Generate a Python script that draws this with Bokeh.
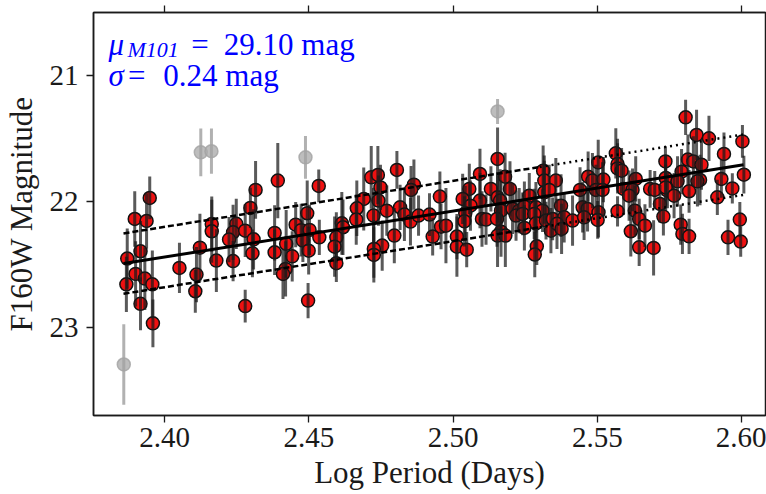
from bokeh.plotting import figure
from bokeh.models import Range1d, FixedTicker, LinearAxis, Label, ColumnDataSource
from bokeh.embed import file_html
from bokeh.resources import INLINE

# ---- data ----
logp_red = [
    2.3870, 2.3896, 2.3948, 2.3937, 2.3916, 2.3899, 2.3931, 2.3867, 2.3957, 2.3916, 2.3959, 2.4051, 2.4110, 2.4106, 2.4122, 2.4163, 2.4163, 2.4179,
    2.4392, 2.4315, 2.4534, 2.4297, 2.4248, 2.4237, 2.4223, 2.4279, 2.4308, 2.4304, 2.4237, 2.4381, 2.4381, 2.4421, 2.4442, 2.4454, 2.4473, 2.4494, 2.4502, 2.4479, 2.4499, 2.4536, 2.4419, 2.4410, 2.4279, 2.4497,
    2.4805, 2.4716, 2.4739, 2.4748, 2.4864, 2.4854, 2.4690, 2.4741, 2.4666, 2.4664, 2.4724, 2.4770, 2.4816, 2.4831, 2.4852, 2.4880, 2.4918, 2.4954, 2.4614, 2.4618, 2.4595, 2.4589, 2.4796, 2.4754, 2.4725, 2.4725, 2.4595, 2.4929, 2.4958,
    2.5154, 2.5093, 2.5180, 2.5312, 2.5316, 2.5356, 2.5056, 2.5033, 2.5131, 2.5197, 2.5093, 2.5154, 2.5163, 2.5060, 2.5264, 2.5316, 2.5333, 2.5042, 2.5166, 2.5206, 2.5229, 2.5247, 2.5287, 2.5310, 2.5218, 2.5241, 2.5281, 2.4975, 2.5039, 2.5100, 2.5114, 2.5152, 2.5287, 2.5322, 2.5345, 2.5247, 2.5166, 2.5154, 2.5181, 2.5339, 2.5013, 2.5013, 2.5047, 2.5290, 2.5283,
    2.5564, 2.5570, 2.5570, 2.5584, 2.5503, 2.5736, 2.5468, 2.5483, 2.5521, 2.5633, 2.5440, 2.5495, 2.5518, 2.5591, 2.5622, 2.5610, 2.5683, 2.5699, 2.5743, 2.5374, 2.5449, 2.5466, 2.5504, 2.5570, 2.5630, 2.5717, 2.5729, 2.5385, 2.5360, 2.5414, 2.5454, 2.5501, 2.5645, 2.5665, 2.5376, 2.5616, 2.5645, 2.5695,
    2.5806, 2.5844, 2.5887, 2.6003, 2.5939, 2.5814, 2.5833, 2.5861, 2.5792, 2.6008, 2.5930, 2.5856, 2.5847, 2.5737, 2.5778, 2.5737, 2.5818, 2.5766, 2.5968, 2.5916, 2.5789, 2.5795, 2.5818, 2.5953, 2.5994, 2.5997,
]
mag_red = [
    22.454, 22.139, 21.972, 22.155, 22.396, 22.576, 22.613, 22.659, 22.659, 22.814, 22.969, 22.528, 22.581, 22.714, 22.367, 22.180, 22.237, 22.470,
    21.834, 21.908, 21.876, 22.051, 22.178, 22.245, 22.303, 22.232, 22.301, 22.412, 22.474, 22.250, 22.404, 22.337, 22.436, 22.184, 22.228, 22.094, 22.226, 22.311, 22.391, 22.285, 22.536, 22.576, 22.832, 22.788,
    21.749, 21.808, 21.789, 21.888, 21.866, 21.908, 21.980, 21.993, 22.054, 22.144, 22.112, 22.073, 22.046, 22.104, 22.160, 22.112, 22.104, 21.961, 22.174, 22.205, 22.285, 22.359, 22.271, 22.351, 22.377, 22.425, 22.491, 22.279, 22.200,
    21.662, 21.781, 21.803, 21.755, 21.834, 21.834, 21.900, 21.980, 21.900, 21.900, 21.993, 21.967, 21.993, 22.033, 21.954, 21.927, 21.908, 22.094, 22.073, 22.059, 22.073, 22.041, 22.046, 22.073, 22.112, 22.099, 22.099, 22.192, 22.158, 22.139, 22.144, 22.139, 22.174, 22.152, 22.139, 22.210, 22.240, 22.271, 22.271, 22.232, 22.279, 22.359, 22.383, 22.356, 22.422,
    21.617, 21.702, 21.737, 21.755, 21.689, 21.681, 21.803, 21.834, 21.826, 21.821, 21.908, 21.908, 21.908, 21.900, 21.908, 21.954, 21.900, 21.908, 21.914, 22.033, 22.046, 22.059, 22.086, 22.078, 22.073, 22.019, 22.120, 22.126, 22.178, 22.152, 22.126, 22.147, 22.139, 22.192, 22.218, 22.237, 22.364, 22.369,
    21.331, 21.471, 21.498, 21.522, 21.622, 21.667, 21.681, 21.707, 21.763, 21.787, 21.821, 21.829, 21.840, 21.813, 21.840, 21.888, 21.919, 21.954, 21.896, 21.967, 22.184, 22.258, 22.277, 22.285, 22.144, 22.319,
]
err_red = [
    0.24, 0.22, 0.17, 0.22, 0.24, 0.26, 0.25, 0.22, 0.27, 0.21, 0.19, 0.20, 0.22, 0.17, 0.27, 0.22, 0.25, 0.25,
    0.30, 0.23, 0.13, 0.16, 0.20, 0.22, 0.18, 0.21, 0.24, 0.19, 0.16, 0.22, 0.18, 0.27, 0.20, 0.18, 0.21, 0.26, 0.20, 0.17, 0.19, 0.14, 0.22, 0.20, 0.13, 0.14,
    0.15, 0.25, 0.23, 0.18, 0.20, 0.19, 0.25, 0.20, 0.22, 0.20, 0.22, 0.20, 0.18, 0.21, 0.19, 0.16, 0.17, 0.20, 0.25, 0.22, 0.20, 0.24, 0.22, 0.20, 0.23, 0.22, 0.15, 0.15, 0.18,
    0.25, 0.20, 0.19, 0.20, 0.20, 0.18, 0.20, 0.20, 0.18, 0.22, 0.22, 0.20, 0.25, 0.20, 0.18, 0.25, 0.20, 0.22, 0.24, 0.20, 0.18, 0.20, 0.20, 0.17, 0.20, 0.17, 0.20, 0.30, 0.20, 0.22, 0.20, 0.22, 0.20, 0.15, 0.17, 0.18, 0.20, 0.25, 0.25, 0.18, 0.18, 0.24, 0.14, 0.15, 0.18,
    0.20, 0.20, 0.20, 0.18, 0.18, 0.12, 0.20, 0.22, 0.18, 0.18, 0.18, 0.20, 0.22, 0.20, 0.17, 0.20, 0.15, 0.15, 0.14, 0.25, 0.20, 0.18, 0.20, 0.12, 0.20, 0.15, 0.15, 0.20, 0.20, 0.20, 0.18, 0.15, 0.16, 0.17, 0.20, 0.20, 0.15, 0.22,
    0.14, 0.20, 0.18, 0.13, 0.17, 0.20, 0.20, 0.20, 0.18, 0.15, 0.15, 0.20, 0.20, 0.18, 0.20, 0.18, 0.17, 0.18, 0.12, 0.14, 0.16, 0.16, 0.14, 0.14, 0.14, 0.12,
]

# rejected (grey) points
logp_grey = [2.3858, 2.4125, 2.4162, 2.4488, 2.5154]
mag_grey = [23.296, 21.609, 21.600, 21.649, 21.284]
err_grey = [0.32, 0.19, 0.18, 0.17, 0.10]

# PL fit and scatter
fit_x = [2.3857, 2.6007]
fit_y = [22.494, 21.707]
sigma = 0.24
dash_split = 2.53

xticks = [2.40, 2.45, 2.50, 2.55, 2.60]
xtick_labels = ["2.40", "2.45", "2.50", "2.55", "2.60"]
yticks = [21, 22, 23]
ytick_labels = ["21", "22", "23"]
x_title = "Log Period (Days)"
y_title = "F160W Magnitude"

SERIF = "Liberation Serif"
FS = "29px"
DARK = "#1a1a1a"

p = figure(width=766, height=494, output_backend="svg", toolbar_location=None,
           x_range=Range1d(2.3753, 2.6083), y_range=Range1d(23.702, 20.497),
           min_border_left=92, min_border_right=1, min_border_top=12, min_border_bottom=79)
p.grid.visible = False
p.background_fill_color = "white"
p.border_fill_color = "white"
p.outline_line_color = DARK
p.outline_line_width = 1.5

for ax in (p.xaxis[0], p.yaxis[0]):
    ax.major_label_text_font = SERIF
    ax.major_label_text_font_size = FS
    ax.major_label_text_color = DARK
    ax.axis_label_text_font = SERIF
    ax.axis_label_text_font_size = "31px"
    ax.axis_label_text_font_style = "normal"
    ax.axis_label_text_color = DARK
    ax.major_tick_out = 7
    ax.major_tick_in = 0
    ax.minor_tick_out = 0
    ax.minor_tick_in = 0
    ax.major_tick_line_width = 1.3
    ax.major_tick_line_color = DARK
    ax.axis_line_color = DARK
    ax.axis_line_width = 1.5

p.xaxis.ticker = FixedTicker(ticks=xticks)
p.xaxis.major_label_overrides = dict(zip(xticks, xtick_labels))
p.yaxis.ticker = FixedTicker(ticks=yticks)
p.yaxis.major_label_overrides = {t: l for t, l in zip(yticks, ytick_labels)}
p.xaxis.axis_label = x_title
p.yaxis.axis_label = y_title
p.xaxis.major_label_standoff = 5
p.xaxis.axis_label_standoff = 5
p.yaxis.major_label_standoff = 8
p.yaxis.axis_label_standoff = 8

# top axis: tick marks only
top = LinearAxis(ticker=FixedTicker(ticks=xticks), major_label_text_font_size="1px",
                 major_label_text_color=None, major_label_standoff=0,
                 major_tick_out=7, major_tick_in=0, minor_tick_out=0, minor_tick_in=0,
                 major_tick_line_width=1.3, major_tick_line_color=DARK,
                 axis_line_color=DARK, axis_line_width=1.5)
p.add_layout(top, "above")

# grey points
src_g = ColumnDataSource(dict(x=logp_grey, y=mag_grey,
                              lo=[m - e for m, e in zip(mag_grey, err_grey)],
                              hi=[m + e for m, e in zip(mag_grey, err_grey)]))
p.scatter("x", "y", source=src_g, size=13, fill_color="#adadad", fill_alpha=0.8,
          line_color="#a3a3a3", line_alpha=0.8, line_width=1.5)
p.segment(x0="x", y0="lo", x1="x", y1="hi", source=src_g, line_color="#a3a3a3",
          line_alpha=0.85, line_width=3)

# red points
src_r = ColumnDataSource(dict(x=logp_red, y=mag_red,
                              lo=[m - e for m, e in zip(mag_red, err_red)],
                              hi=[m + e for m, e in zip(mag_red, err_red)]))
p.scatter("x", "y", source=src_r, size=13, fill_color="#ee1111", line_color="#111111",
          line_width=1.5)
p.segment(x0="x", y0="lo", x1="x", y1="hi", source=src_r, line_color=DARK,
          line_alpha=0.72, line_width=3)

# fit lines
slope = (fit_y[1] - fit_y[0]) / (fit_x[1] - fit_x[0])
y_split = fit_y[0] + slope * (dash_split - fit_x[0])
p.line(fit_x, fit_y, line_color="black", line_width=3)
for s in (-sigma, sigma):
    p.line([fit_x[0], dash_split], [fit_y[0] + s, y_split + s], line_color="black",
           line_width=2.5, line_dash="6 3")
    p.line([dash_split, fit_x[1]], [y_split + s, fit_y[1] + s], line_color="black",
           line_width=2.5, line_dash="2 4")

# annotation
BLUE = "#0000ff"
def lab(x, y, t, size="31px", style="normal"):
    p.add_layout(Label(x=x, y=y, text=t, text_font=SERIF, text_font_size=size,
                       text_font_style=style, text_color=BLUE, text_baseline="alphabetic",
                       text_align="left"))

lab(2.3805, 20.754, "μ", style="italic")
lab(2.3871, 20.793, "M101", size="22px", style="italic")
lab(2.4092, 20.754, "=")
lab(2.4205, 20.754, "29.10 mag")
lab(2.3805, 21.000, "σ", style="italic")
lab(2.3873, 21.000, "=")
lab(2.3995, 21.000, "0.24 mag")

open("out.html", "w").write(file_html(p, INLINE))
